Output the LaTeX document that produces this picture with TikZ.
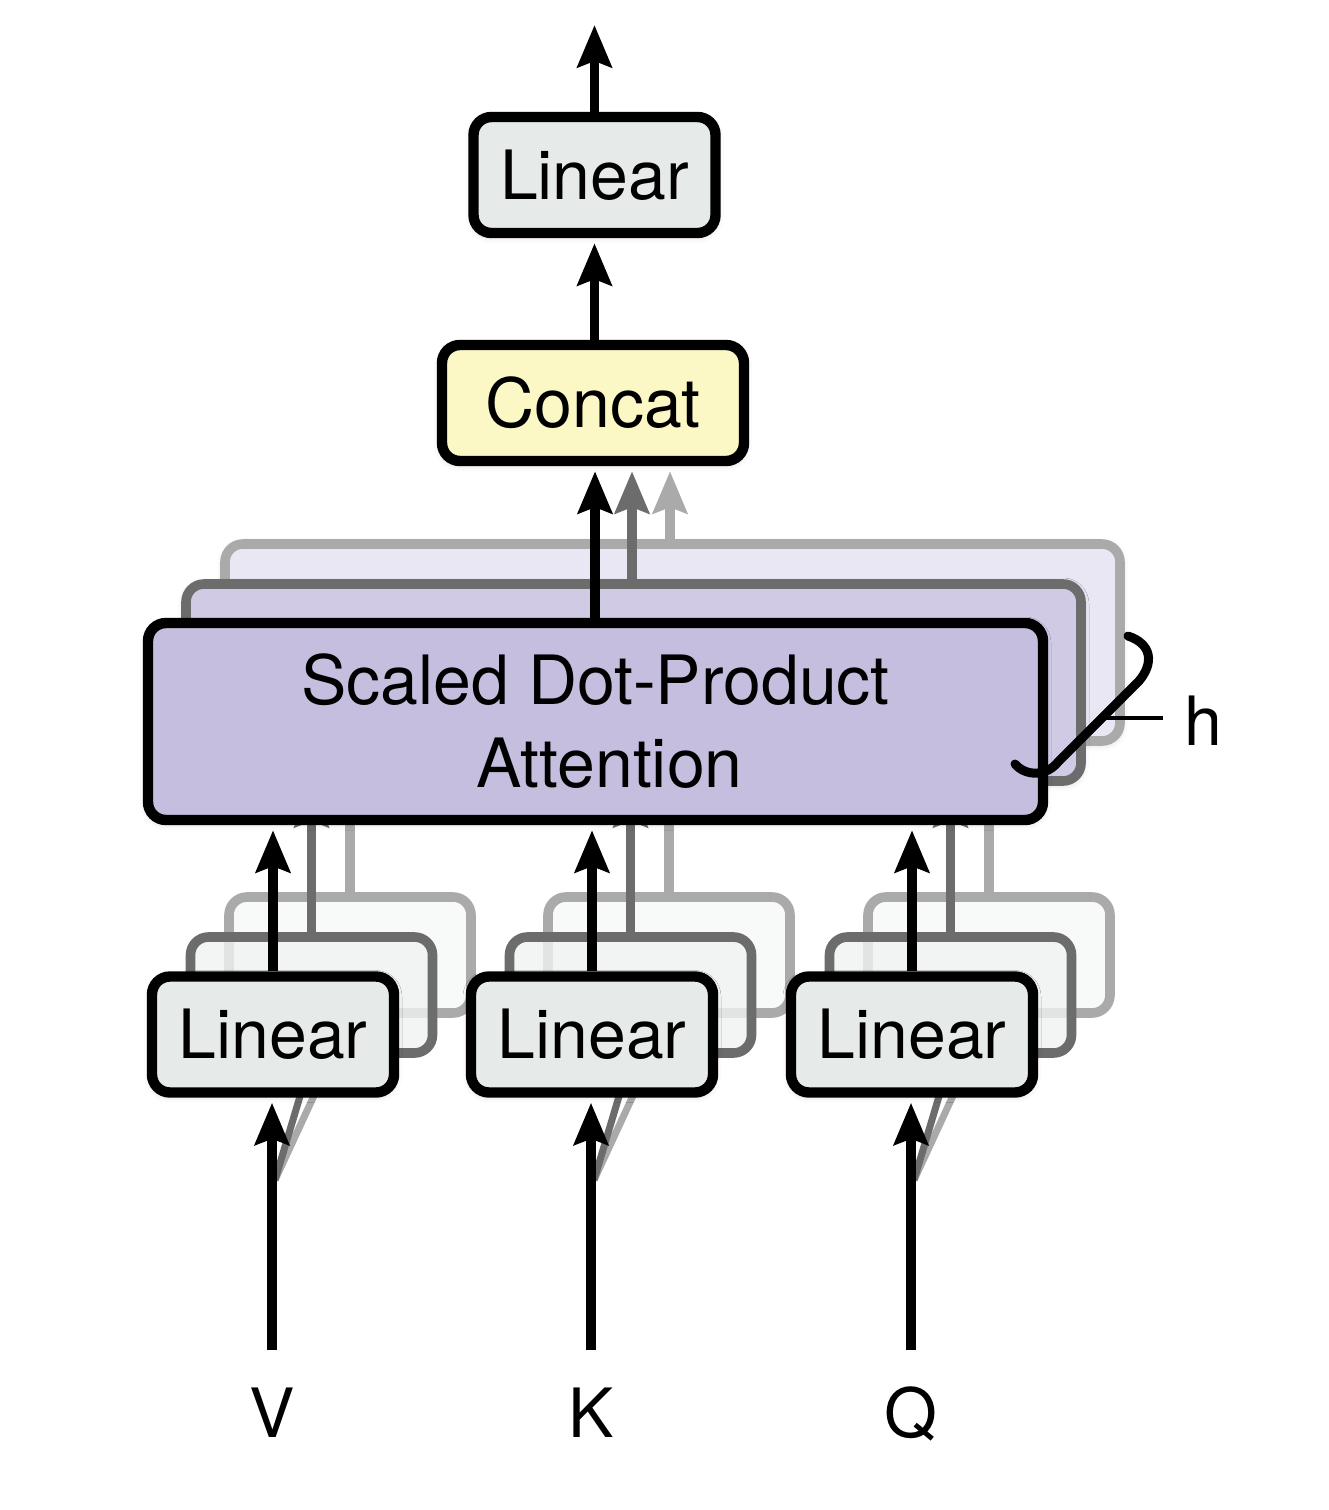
\documentclass[tikz,border=0pt]{standalone}
\usepackage{fontspec}
\setmainfont{TeX Gyre Heros}
\usetikzlibrary{arrows.meta,shadows.blur}
\definecolor{linfill}{RGB}{230,235,233}
\definecolor{catfill}{RGB}{252,248,197}
\definecolor{sdpafill}{RGB}{197,190,222}
\definecolor{sdpamidfill}{RGB}{208,202,229}
\definecolor{sdpabackfill}{RGB}{233,231,243}
\definecolor{gmid}{RGB}{108,108,108}
\definecolor{glight}{RGB}{170,170,170}
\begin{document}
\begin{tikzpicture}[x=0.5pt, y={(0pt,-0.5pt)},
  bigfont/.style={font=\fontsize{34}{41.5}\selectfont},
  box/.style={draw=black, line width=5.2pt, rounded corners=9pt, inner sep=0pt, bigfont},
  softshadow/.style={blur shadow={shadow xshift=0pt, shadow yshift=-1pt, shadow blur radius=4pt, shadow opacity=22}},
  linbox/.style={box, fill=linfill, minimum width=121pt, minimum height=58pt},
  linmid/.style={linbox, draw=gmid, fill=linfill!60!white, fill opacity=0.8, line width=4.8pt},
  linback/.style={linbox, draw=glight, fill=linfill!35!white, fill opacity=0.8, line width=4.8pt},
  catbox/.style={box, fill=catfill, minimum width=151pt, minimum height=58pt},
  sdpabox/.style={box, fill=sdpafill, minimum width=447.5pt, minimum height=98.5pt, align=center},
  sdpamid/.style={sdpabox, draw=gmid, fill=sdpamidfill, line width=4.8pt},
  sdpaback/.style={sdpabox, draw=glight, fill=sdpabackfill, line width=4.8pt},
  arr/.style={draw=black, line width=4.6pt, -{Stealth[length=21pt,width=17pt,inset=3pt]}},
  garrd/.style={arr, draw=gmid},
  garrl/.style={arr, draw=glight},
  lbl/.style={bigfont, inner sep=0pt, anchor=base}
]
\useasboundingbox (0,0) rectangle (1328,1510);

% reference levels
\coordinate (s2b) at (0,785);
\coordinate (s3b) at (0,745);
\coordinate (outtop) at (595,25);

% top part
\node[linbox, softshadow] (linout) at (594.5,175) {Linear};
\node[catbox, softshadow] (concat) at (593,403) {Concat};
\draw[arr] (linout.north) -- (linout.north |- outtop);
\draw[arr, shorten >=2.5pt] (linout.south |- concat.north) -- (linout.south);

% attention heads (back to front)
\node[sdpaback, softshadow] (sdpa3) at (672.5,642.5) {};
\draw[garrl, shorten >=2.5pt] (sdpa3.north -| 670,0) -- (670,0 |- concat.south);
\node[sdpamid, softshadow] (sdpa2) at (633.5,682.5) {};
\draw[garrd, shorten >=2.5pt] (sdpa2.north -| 632,0) -- (632,0 |- concat.south);

% linear projections, back layers
\foreach \n/\x in {V/273,K/592,Q/912}{
  \node[linback] (\n3) at (\x+77,955) {};
  \draw[garrl] (\n3.north) -- (\n3.north |- s3b);
  \node[linmid] (\n2) at (\x+38.5,995) {};
  \draw[garrd] (\n2.north) -- (\n2.north |- s2b);
  \coordinate (\n fork) at (\x+2,1180);
  \draw[glight, line width=3.5pt] (\n fork) -- (\n3.south);
  \draw[gmid, line width=3.5pt] (\n fork) -- (\n2.south);
}

% front attention
\node[sdpabox, softshadow] (sdpa) at (595.5,721.5) {Scaled Dot-Product\\\hspace*{14pt}Attention};
\draw[arr, shorten >=2.5pt] (sdpa.north -| 595,0) -- (595,0 |- concat.south);

% front linear projections and inputs
\foreach \n/\x in {V/273,K/592,Q/912}{
  \node[linbox, softshadow] (\n1) at (\x,1034.5) {Linear};
  \draw[arr, shorten >=2.5pt] (\n1.north) -- (\n1.north |- sdpa.south);
  \node[lbl] (lab\n) at (\x-1,1437) {\n};
  \coordinate (\n in) at (\x-1,1350);
  \draw[arr, shorten >=2.5pt] (\n in) -- (\n in |- \n1.south);
}

% head brace
\draw[line width=4.5pt, line cap=round] (1128,636) .. controls (1152,644) and (1154,663) .. (1139,681) -- (1058,762) .. controls (1046,777) and (1025,776) .. (1015,764);
\coordinate (hmid) at (1099,718);
\coordinate (htick) at (1163,718);
\node[lbl] (hlab) at (1203,745) {h};
\draw[line width=2.2pt] (hmid) -- (htick);
\end{tikzpicture}
\end{document}
